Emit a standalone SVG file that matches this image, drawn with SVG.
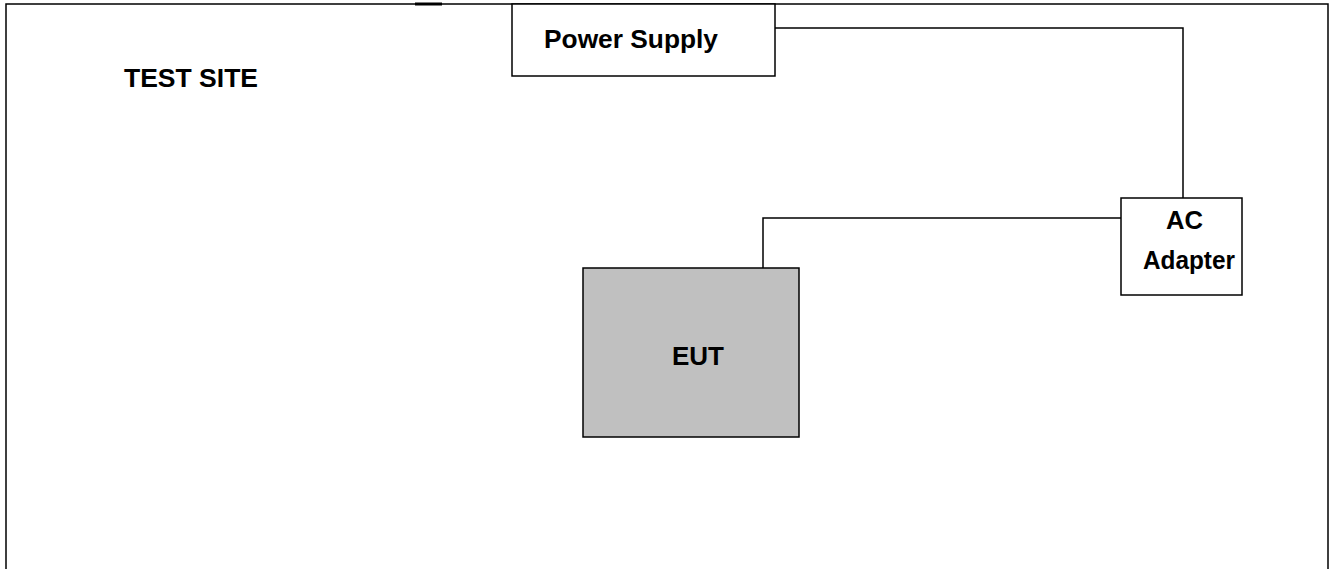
<svg xmlns="http://www.w3.org/2000/svg" width="1333" height="569" viewBox="0 0 1333 569">
<style>
.ln{fill:none;stroke:#000;stroke-width:1.5}
.box{fill:#fff;stroke:#000;stroke-width:1.5}
.t{font-family:"Liberation Sans",Arial,sans-serif;font-weight:bold;font-size:26px;fill:#000}
</style>
<rect width="1333" height="569" fill="#fff"/>
<g id="test-site">
<path class="ln" d="M6,569 V4 H1328 V569"/>
<line x1="415" y1="4" x2="442" y2="4" stroke="#000" stroke-width="3"/>
<text class="t" x="124" y="87" textLength="134" lengthAdjust="spacingAndGlyphs">TEST SITE</text>
</g>
<g id="connectors">
<path class="ln" d="M775,28 H1183 V198"/>
<path class="ln" d="M1121,218 H763 V268"/>
</g>
<g id="power-supply">
<rect class="box" x="512" y="4" width="263" height="72"/>
<text class="t" x="544" y="48" textLength="174" lengthAdjust="spacingAndGlyphs">Power Supply</text>
</g>
<g id="ac-adapter">
<rect class="box" x="1121" y="198" width="121" height="97"/>
<text class="t" x="1166" y="229" textLength="37" lengthAdjust="spacingAndGlyphs">AC</text>
<text class="t" x="1143" y="269" textLength="92" lengthAdjust="spacingAndGlyphs">Adapter</text>
</g>
<g id="eut">
<rect x="583" y="268" width="216" height="169" fill="#c0c0c0" stroke="#000" stroke-width="1.5"/>
<text class="t" x="672" y="365" textLength="52" lengthAdjust="spacingAndGlyphs">EUT</text>
</g>
</svg>
